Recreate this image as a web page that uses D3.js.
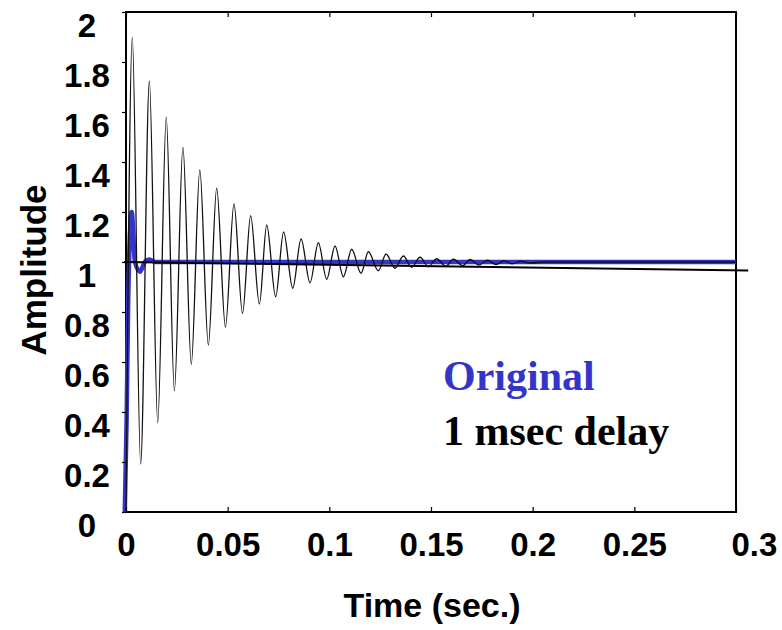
<!DOCTYPE html>
<html>
<head>
<meta charset="utf-8">
<script src="https://cdn.jsdelivr.net/npm/d3@7"></script>
<style>
  html, body { margin: 0; padding: 0; background: #fff; }
  svg { display: block; }
</style>
</head>
<body>
<svg id="chart" width="782" height="630"></svg>
<script>
// Step response: original loop vs. loop with a 1 msec delay
const xTicks = [0, 0.05, 0.1, 0.15, 0.2, 0.25, 0.3];
const yTicks = [0, 0.2, 0.4, 0.6, 0.8, 1, 1.2, 1.4, 1.6, 1.8, 2];

// Original response (time in sec, amplitude)
const originalT = [-0.0006, 0.0003, 0.0011, 0.0028, 0.0044, 0.0069, 0.0092, 0.0115, 0.0145, 0.3];
const originalV = [0, 0.37, 0.85, 1.20, 1.0, 0.961, 1.0, 1.01, 1.0, 1.0];

// Response with 1 msec delay: successive peaks and troughs
const delayT = [0, 0.0031, 0.0072, 0.0115, 0.0156, 0.0198, 0.0238, 0.0280, 0.0321, 0.0363,
  0.0405, 0.0446, 0.0489, 0.0531, 0.0573, 0.0613, 0.0656, 0.0692, 0.0736, 0.0775,
  0.0820, 0.0861, 0.0905, 0.0946, 0.0987, 0.1028, 0.1069, 0.1110, 0.1156, 0.1192,
  0.1241, 0.1279, 0.1323, 0.1364, 0.1405, 0.1446, 0.1487, 0.1528, 0.1573, 0.1610,
  0.1656, 0.1692, 0.1736, 0.1777, 0.1820, 0.1859, 0.1899, 0.1941, 0.1987, 0.2060, 0.3];
const delayV = [0, 1.897, 0.192, 1.724, 0.357, 1.579, 0.485, 1.459, 0.591, 1.368,
  0.668, 1.295, 0.740, 1.232, 0.794, 1.185, 0.832, 1.148, 0.861, 1.120,
  0.895, 1.092, 0.917, 1.077, 0.931, 1.064, 0.941, 1.051, 0.955, 1.041,
  0.965, 1.032, 0.975, 1.024, 0.979, 1.019, 0.981, 1.013, 0.983, 1.011,
  0.985, 1.010, 0.988, 1.007, 0.990, 1.005, 0.993, 1.003, 0.996, 1.0, 1.0];

// Slow drift of the delayed response's final value
const driftT = [-0.001, 0.306];
const driftV = [1.0, 0.966];

const legendLabels = ["Original", "1 msec delay"];
const legendColors = ["#3434c8", "#000000"];

const svg = d3.select("#chart");
svg.append("rect").attr("width", 782).attr("height", 630).attr("fill", "#fff");

const x = d3.scaleLinear().domain([0, 0.3]).range([126, 736]);
const y = d3.scaleLinear().domain([0, 2]).range([512, 12]);

const line = d3.line()
  .x(d => x(d[0]))
  .y(d => y(d[1]))
  .curve(d3.curveMonotoneX);

// Frame
svg.append("rect")
  .attr("x", x(0)).attr("y", y(2))
  .attr("width", x(0.3) - x(0)).attr("height", y(0) - y(2))
  .attr("fill", "none").attr("stroke", "#000").attr("stroke-width", 2);

// Curves
svg.append("path")
  .attr("d", line(d3.zip(originalT, originalV)))
  .attr("fill", "none").attr("stroke", legendColors[0]).attr("stroke-width", 4.5)
  .attr("stroke-linejoin", "round");

svg.append("path")
  .attr("d", d3.line().x(d => x(d[0])).y(d => y(d[1]))(d3.zip(driftT, driftV)))
  .attr("fill", "none").attr("stroke", "#000").attr("stroke-width", 1.8);

svg.append("path")
  .attr("d", line(d3.zip(delayT, delayV)))
  .attr("fill", "none").attr("stroke", "#111").attr("stroke-width", 1.3)
  .attr("stroke-linejoin", "round");

const tickFont = "'Liberation Sans', Arial, Helvetica, sans-serif";
const fmt = d3.format("~g");

// Left axis
const gy = svg.append("g").attr("transform", `translate(${x(0)},0)`)
  .call(d3.axisLeft(y).tickValues(yTicks).tickFormat(fmt).tickSizeOuter(0).tickSizeInner(4));
gy.select(".domain").remove();
gy.selectAll(".tick line").attr("stroke-width", 1.2);
gy.selectAll(".tick text")
  .attr("x", -39).attr("dy", 24)
  .attr("text-anchor", "middle")
  .style("font-family", tickFont).style("font-weight", "bold").style("font-size", "33px")
  .attr("fill", "#000");

// Bottom axis
const gx = svg.append("g").attr("transform", `translate(0,${y(0)})`)
  .call(d3.axisBottom(x).tickValues(xTicks).tickFormat(fmt).tickSizeOuter(0).tickSizeInner(-5));
gx.select(".domain").remove();
gx.selectAll(".tick line").attr("stroke-width", 1.2);
gx.selectAll(".tick text")
  .attr("y", 0).attr("dy", 44)
  .style("font-family", tickFont).style("font-weight", "bold").style("font-size", "33px")
  .attr("fill", "#000");
gx.selectAll(".tick text").filter(d => d === 0.3).attr("text-anchor", "start").attr("dx", -5);

// Top axis (ticks only)
const gt = svg.append("g").attr("transform", `translate(0,${y(2)})`)
  .call(d3.axisTop(x).tickValues(xTicks).tickFormat("").tickSizeOuter(0).tickSizeInner(-5));
gt.select(".domain").remove();
gt.selectAll(".tick line").attr("stroke-width", 1.2);

// Axis titles
svg.append("text")
  .attr("x", 432).attr("y", 617)
  .attr("text-anchor", "middle")
  .style("font-family", tickFont).style("font-weight", "bold").style("font-size", "34px")
  .text("Time (sec.)");

svg.append("text")
  .attr("transform", "translate(46,270) rotate(-90)")
  .attr("text-anchor", "middle")
  .style("font-family", tickFont).style("font-weight", "bold").style("font-size", "35px")
  .text("Amplitude");

// Legend text
svg.selectAll("text.legend")
  .data(legendLabels)
  .join("text")
  .attr("class", "legend")
  .attr("x", 443)
  .attr("y", (d, i) => 390 + i * 55)
  .attr("fill", (d, i) => legendColors[i])
  .style("font-family", "'Liberation Serif', 'Times New Roman', serif")
  .style("font-weight", "bold").style("font-size", "42px")
  .text(d => d);
</script>
</body>
</html>
